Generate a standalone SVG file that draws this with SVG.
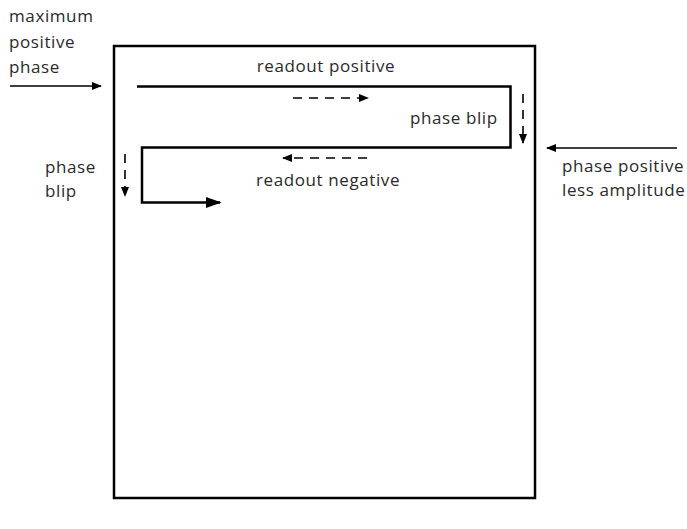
<svg xmlns="http://www.w3.org/2000/svg" width="687" height="529" viewBox="0 0 687 529">
<style>
text{font-family:"Open Sans","Liberation Sans",sans-serif;font-size:17px;letter-spacing:0.6px;fill:#2a2a2a}
.solid{fill:none;stroke:#000;stroke-width:2.5}
.thin{fill:none;stroke:#000;stroke-width:1.6}
.dash{fill:none;stroke:#000;stroke-width:1.6;stroke-dasharray:9,7}
</style>
<defs>
<marker id="ah" viewBox="0 0 10 10" refX="9" refY="5" markerWidth="10" markerHeight="10" markerUnits="userSpaceOnUse" orient="auto"><path d="M0,1 L10,5 L0,9 Z" fill="#000"/></marker>
<marker id="ahb" viewBox="0 0 10 10" refX="9" refY="5" markerWidth="16" markerHeight="16" markerUnits="userSpaceOnUse" orient="auto"><path d="M0,1.5 L10,5 L0,8.5 Z" fill="#000"/></marker>
</defs>
<rect id="frame" x="114" y="46" width="421" height="452" class="solid"/>
<g id="connectors">
<line x1="10" y1="86" x2="101" y2="86" class="thin" marker-end="url(#ah)"/>
<line x1="677" y1="148" x2="547" y2="148" class="thin" marker-end="url(#ah)"/>
<path d="M137,86.5 H510.5 V147.5 H142 V202.5 H220" class="solid" marker-end="url(#ahb)"/>
<line x1="293" y1="98" x2="368" y2="98" class="dash" marker-end="url(#ah)"/>
<line x1="367" y1="158" x2="283" y2="158" class="dash" marker-end="url(#ah)"/>
<line x1="523" y1="94" x2="523" y2="143" class="dash" marker-end="url(#ah)"/>
<line x1="125" y1="154" x2="125" y2="196" class="dash" marker-end="url(#ah)"/>
</g>
<g id="label-max"><text x="9" y="22">maximum</text><text x="9" y="48">positive</text><text x="9" y="73">phase</text></g>
<g id="label-rp"><text x="326" y="72" text-anchor="middle">readout positive</text></g>
<g id="label-pb1"><text x="410" y="124">phase blip</text></g>
<g id="label-rn"><text x="328" y="186" text-anchor="middle">readout negative</text></g>
<g id="label-pb2"><text x="45" y="173">phase</text><text x="45" y="197">blip</text></g>
<g id="label-ppla"><text x="562" y="172">phase positive</text><text x="562" y="196">less amplitude</text></g>
</svg>
